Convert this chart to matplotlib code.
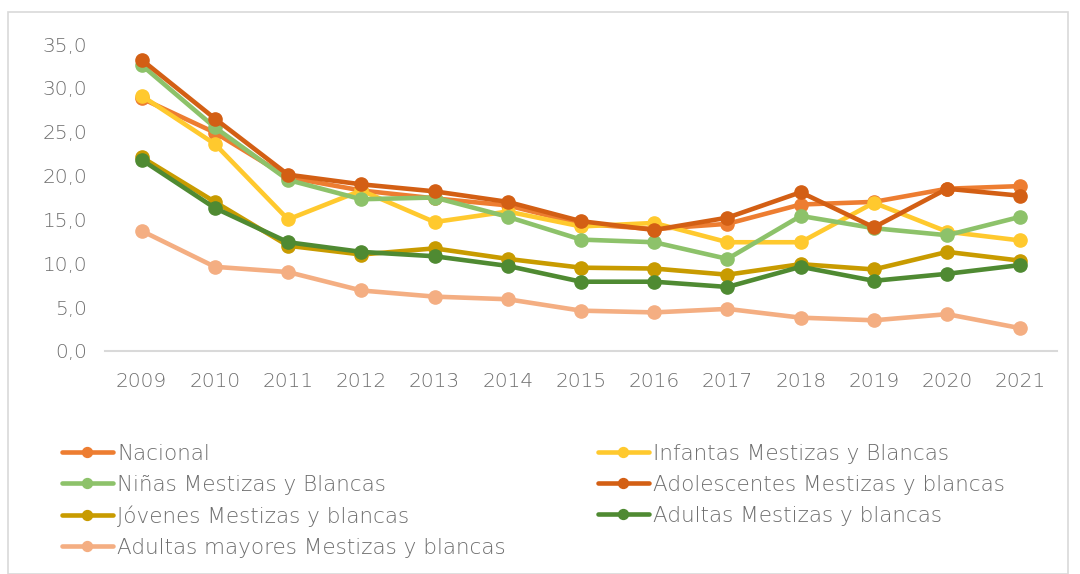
import matplotlib
matplotlib.use("Agg")
import matplotlib.pyplot as plt
from matplotlib.ticker import FuncFormatter
from matplotlib.patches import Rectangle

# Data
years = ["2009", "2010", "2011", "2012", "2013", "2014", "2015",
         "2016", "2017", "2018", "2019", "2020", "2021"]

nacional = [28.8, 24.9, 19.8, 18.3, 17.4, 16.6, 14.5, 13.9, 14.5, 16.7, 17.0, 18.5, 18.8]
infantas = [29.1, 23.6, 15.0, 18.3, 14.7, 15.9, 14.2, 14.6, 12.4, 12.4, 16.9, 13.6, 12.6]
ninas = [32.6, 25.5, 19.5, 17.3, 17.5, 15.3, 12.7, 12.4, 10.5, 15.4, 14.0, 13.2, 15.3]
adolescentes = [33.2, 26.5, 20.1, 19.0, 18.2, 17.0, 14.8, 13.8, 15.2, 18.1, 14.1, 18.5, 17.7]
jovenes = [22.1, 17.0, 12.0, 11.0, 11.7, 10.5, 9.5, 9.4, 8.7, 9.9, 9.3, 11.3, 10.3]
adultas = [21.8, 16.3, 12.4, 11.3, 10.8, 9.7, 7.9, 7.9, 7.3, 9.6, 8.0, 8.8, 9.8]
mayores = [13.7, 9.6, 9.0, 6.9, 6.2, 5.9, 4.6, 4.4, 4.8, 3.8, 3.5, 4.2, 2.6]

series = [
    ("Nacional", nacional, "#ED7D31"),
    ("Infantas Mestizas y Blancas", infantas, "#FFC92E"),
    ("Niñas Mestizas y Blancas", ninas, "#8DC26A"),
    ("Adolescentes Mestizas y blancas", adolescentes, "#D35F14"),
    ("Jóvenes Mestizas y blancas", jovenes, "#C89B00"),
    ("Adultas Mestizas y blancas", adultas, "#4F8A32"),
    ("Adultas mayores Mestizas y blancas", mayores, "#F4AE82"),
]

plt.rcParams['font.family'] = ['DejaVu Sans']
plt.rcParams['font.weight'] = 'light'
txt_color = "#6E6E6E"

fig = plt.figure(figsize=(10.8, 5.74), dpi=100)
ax = fig.add_axes([105 / 1080, 1 - 351 / 574, 952 / 1080, 307 / 574])

# light frame around the whole chart
fig.patches.append(Rectangle((8 / 1080, 0), 1060 / 1080, 1 - 12 / 574,
                             transform=fig.transFigure, fill=False,
                             edgecolor="#D9D9D9", linewidth=1.2))

x = list(range(len(years)))
handles = {}
for name, vals, col in series:
    h, = ax.plot(x, vals, color=col, linewidth=3.3, marker="o",
                 markersize=9.5, label=name, solid_capstyle="round")
    handles[name] = h

ax.set_xlim(-0.5, len(years) - 0.5)
ax.set_ylim(0, 35)
ax.set_yticks([0, 5, 10, 15, 20, 25, 30, 35])
ax.yaxis.set_major_formatter(FuncFormatter(lambda v, p: f"{v:.1f}".replace(".", ",")))
ax.set_xticks(x)
ax.set_xticklabels(years)

for s in ["top", "right", "left"]:
    ax.spines[s].set_visible(False)
ax.spines["bottom"].set_color("#D9D9D9")
ax.spines["bottom"].set_linewidth(1.5)
ax.tick_params(axis="both", length=0, labelsize=14.5, labelcolor=txt_color)
ax.tick_params(axis="x", pad=15)
ax.tick_params(axis="y", pad=13)

# legend order: filled column by column
order = ["Nacional", "Niñas Mestizas y Blancas", "Jóvenes Mestizas y blancas",
         "Adultas mayores Mestizas y blancas", "Infantas Mestizas y Blancas",
         "Adolescentes Mestizas y blancas", "Adultas Mestizas y blancas"]
leg = fig.legend([handles[n] for n in order], order, ncol=2, loc="upper left",
                 bbox_to_anchor=(62 / 1080, 1 - 444 / 574), frameon=False,
                 fontsize=15.5, handlelength=2.35, handletextpad=0.2,
                 columnspacing=4.3, labelspacing=0.5, borderpad=0,
                 borderaxespad=0, markerscale=0.75)
for t in leg.get_texts():
    t.set_color(txt_color)

fig.savefig("out.png", dpi=100)
